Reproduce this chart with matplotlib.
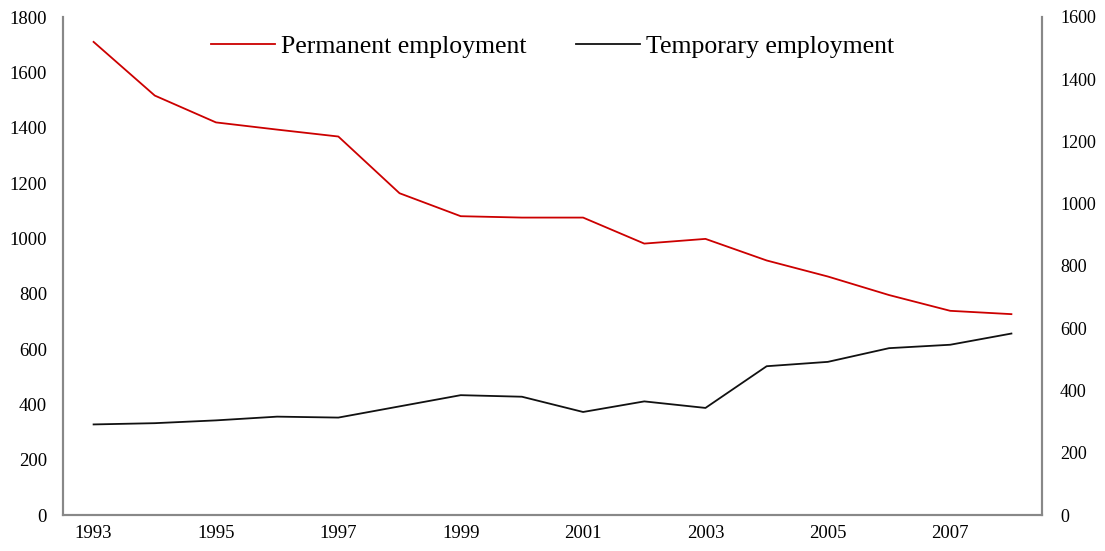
import matplotlib
matplotlib.use("Agg")
import matplotlib.pyplot as plt

# Datos
years = list(range(1993, 2009))
permanent = [1710, 1516, 1419, 1393, 1368, 1163, 1080, 1075, 1075, 981, 998, 920, 862, 795, 738, 726]
temporary = [291, 295, 304, 316, 313, 349, 385, 380, 331, 365, 344, 478, 492, 536, 547, 583]
xticks = [1993, 1995, 1997, 1999, 2001, 2003, 2005, 2007]

plt.rcParams['font.family'] = ['Liberation Serif', 'DejaVu Serif']

fig = plt.figure(figsize=(11.05, 5.51), dpi=100)
ax = fig.add_axes([63 / 1105, 1 - 515 / 551, (1042 - 63) / 1105, (515 - 17) / 551])
ax2 = ax.twinx()

gris = '#888888'

l1, = ax.plot(years, permanent, color='#cc0000', lw=1.3, label='Permanent employment')
l2, = ax2.plot(years, temporary, color='#111111', lw=1.3, label='Temporary employment')

ax.set_xlim(1992.5, 2008.5)
ax.set_ylim(0, 1800)
ax2.set_ylim(0, 1600)
ax.set_yticks(range(0, 1801, 200))
ax2.set_yticks(range(0, 1601, 200))
ax.set_xticks(xticks)

for a in (ax, ax2):
    a.spines['top'].set_visible(False)
    for s in ('left', 'right', 'bottom'):
        a.spines[s].set_color(gris)
        a.spines[s].set_linewidth(1.5)
    a.tick_params(length=0, labelsize=13.5, colors='black')

ax.tick_params(axis='y', pad=11.5)
ax.tick_params(axis='x', pad=7)
ax2.tick_params(axis='y', pad=13, labelsize=13)

ax2.legend([l1, l2], ['Permanent employment', 'Temporary employment'],
           loc='upper center', bbox_to_anchor=(0.5, 1.0), ncol=2, frameon=False,
           fontsize=18.5, handlelength=2.5, handletextpad=0.25, columnspacing=1.9,
           borderaxespad=0.3)

fig.savefig('out.png', dpi=100)
